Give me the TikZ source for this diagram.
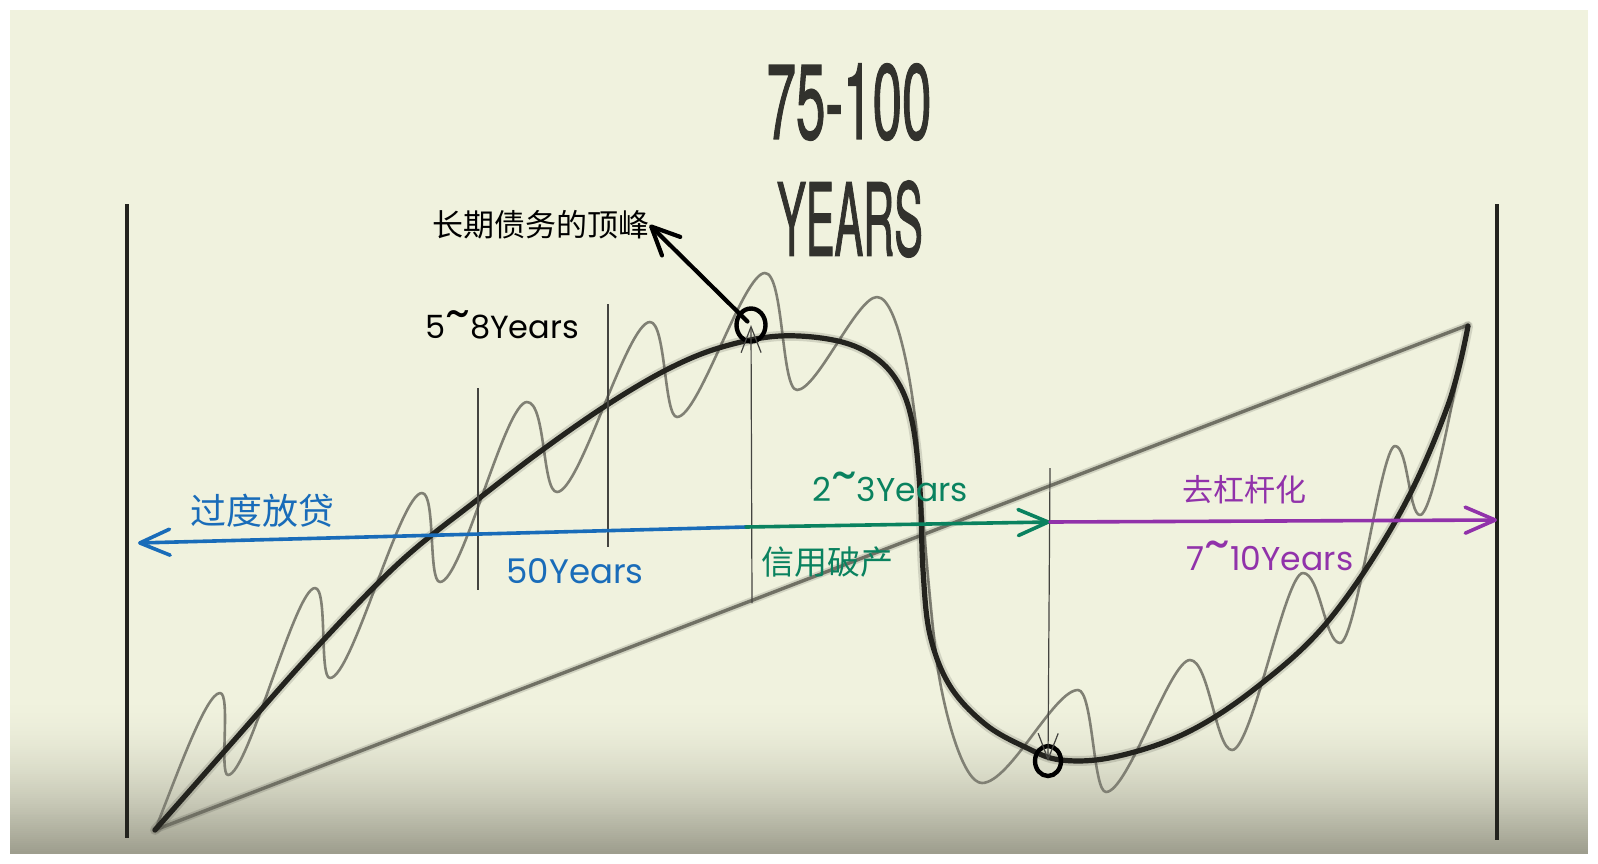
\documentclass[tikz,border=0pt]{standalone}
\usepackage{fontspec}
\setsansfont{TeX Gyre Heros}
\newfontfamily\titlefont[FakeBold=1.6]{TeX Gyre Heros}
\newfontfamily\cjk{Noto Sans CJK SC}
\newfontfamily\hand{Poppins}
\usetikzlibrary{arrows.meta,shapes.geometric}
\definecolor{bgc}{RGB}{240,242,222}
\definecolor{bgdark}{RGB}{158,158,142}
\definecolor{inkc}{RGB}{35,35,30}
\definecolor{wavec}{RGB}{128,128,116}
\definecolor{trendc}{RGB}{112,112,100}
\definecolor{titlec}{RGB}{50,50,45}
\definecolor{blueA}{RGB}{25,108,185}
\definecolor{greenA}{RGB}{10,130,95}
\definecolor{purpleA}{RGB}{145,50,170}
\newcommand{\htilde}{\raisebox{.3em}{\scalebox{1.5}{\textasciitilde}}}
\begin{document}
\begin{tikzpicture}[x=1pt,y=-1pt,
  bar/.style={line width=4pt, draw=inkc},
  thinline/.style={line width=1.3pt, draw=inkc!85},
  maincurve/.style={line width=5.2pt, draw=inkc, line cap=round, line join=round},
  halo/.style={line width=#1, draw=inkc, opacity=0.15, line cap=round, line join=round},
  wave/.style={line width=2.6pt, draw=wavec, line cap=round, line join=round},
  trend/.style={line width=3.4pt, draw=trendc, line cap=round},
  ring/.style={ellipse, draw=black, line width=4.4pt, inner sep=0pt},
  vtip/.style={line width=1.2pt, draw=inkc!85, -{Straight Barb[length=26pt,width=20pt,line width=1.2pt]}},
  carrow/.style={line width=3.6pt, line cap=round, -{Straight Barb[length=30pt,width=26pt,line cap=round,line join=round]}},
  cjklabel/.style={inner sep=0pt, font=\cjk\fontsize{#1}{#1}\selectfont},
  handlabel/.style={inner sep=0pt, font=\hand\fontsize{#1}{#1}\selectfont},
  titletext/.style={inner sep=0pt, text=titlec, xscale=0.5, font=\titlefont\fontsize{#1}{#1}\selectfont}
]
\useasboundingbox (0,0) rectangle (1598,863);
\fill[white] (0,0) rectangle (1598,863);
\fill[bgc] (10,10) rectangle (1588,853);
\foreach \i in {0,...,79}{
  \pgfmathsetmacro\p{100*(\i/79)^1.8}
  \fill[bgdark!\p!bgc] (10,{695+\i*1.975}) rectangle (1588,{695+(\i+1)*1.975+0.6});
}

% title
\node[titletext=106] (t1) at (849,102) {75-100};
\node[titletext=100, xscale=0.86] (t2) at (850,219) {YEARS};

% frame bars
\draw[bar] (127,204) -- (127,838);
\draw[bar] (1497,204) -- (1497,840);

% trend line
\draw[halo=7pt] (155,830) -- (1468,325);
\draw[trend] (155,830) -- (1468,325);

% wave
\draw[wave] (155,830)
 .. controls +(22,-55) and +(-14,0) .. (220,693)
 .. controls +(11,0) and +(-9,0) .. (228,775)
 .. controls +(20,0) and +(-20,0) .. (315,588)
 .. controls +(13,0) and +(-11,0) .. (330,678)
 .. controls +(22,0) and +(-22,0) .. (422,493)
 .. controls +(14,0) and +(-12,0) .. (440,582)
 .. controls +(22,0) and +(-22,0) .. (527,402)
 .. controls +(19,0) and +(-15,0) .. (557,492)
 .. controls +(23,0) and +(-23,0) .. (650,322)
 .. controls +(16,0) and +(-13,0) .. (677,417)
 .. controls +(22,0) and +(-22,0) .. (765,273)
 .. controls +(19,0) and +(-16,0) .. (797,390)
 .. controls +(20,0) and +(-20,0) .. (877,297)
 .. controls +(22,0) and +(-3,-50) .. (918,450)
 .. controls +(3,50) and +(-6,-40) .. (938,670)
 .. controls +(8,50) and +(-18,0) .. (982,783)
 .. controls +(28,0) and +(-24,0) .. (1078,690)
 .. controls +(15,0) and +(-13,0) .. (1106,792)
 .. controls +(22,0) and +(-20,0) .. (1190,660)
 .. controls +(19,0) and +(-16,0) .. (1232,750)
 .. controls +(20,0) and +(-18,0) .. (1303,573)
 .. controls +(17,0) and +(-15,0) .. (1340,643)
 .. controls +(16,0) and +(-14,0) .. (1395,446)
 .. controls +(13,0) and +(-11,0) .. (1420,515)
 .. controls +(14,0) and +(-8,30) .. (1468,326);

% main debt curve
\def\mainpts{(155,830) (230,745) (317,647) (400,562) (477,500) (545,448) (610,403) (670,368) (722,347) (780,336) (838,341) (876,358) (900,386) (913,426) (920,490) (923,570) (930,635) (950,686) (985,724) (1025,747) (1061,760) (1114,757) (1186,733) (1257,687) (1329,620) (1400,513) (1448,405) (1468,326)}
\draw[halo=10pt] plot[smooth, tension=0.6] coordinates {\mainpts};
\draw[maincurve] plot[smooth, tension=0.6] coordinates {\mainpts};

% thin vertical markers
\draw[thinline] (478,388) -- (478,590);
\draw[thinline] (608,304) -- (608,547);

% rings
\node[ring, minimum width=29pt, minimum height=33pt] (peakc) at (751,325) {};
\node[ring, minimum width=26pt, minimum height=30pt] (troughc) at (1048,761) {};

% vertical arrows into rings
\coordinate (pkbase) at (752,603);
\coordinate (trtop) at (1050,468);
\draw[vtip] (pkbase) -- (peakc.center);
\draw[vtip] (trtop) -- (troughc.center);

% labels
\node[cjklabel=31, text=black] (peaklbl) at (541,225) {长期债务的顶峰};
\draw[line width=4.2pt, line cap=round, shorten <=5pt,
  -{Straight Barb[length=28pt,width=26pt,line cap=round,line join=round]}]
  (peakc.center) -- (peaklbl.east);

\node[handlabel=32, text=black] (l58) at (502,325) {5\htilde 8Years};
\node[handlabel=34, text=blueA] (l50) at (575,571) {50Years};
\node[handlabel=33, text=greenA] (l23) at (890,487) {2\htilde 3Years};
\node[handlabel=33, text=purpleA] (l710) at (1270,556) {7\htilde 10Years};

\node[cjklabel=36, text=blueA] (over) at (262,511) {过度放贷};
\node[cjklabel=33, text=greenA] (crash) at (827,562) {信用破产};
\node[cjklabel=31, text=purpleA] (delev) at (1244,490) {去杠杆化};

% phase arrows
\coordinate (split1) at (746,527);
\coordinate (leftend) at (138,543);
\coordinate (split2) at (1050,522);
\coordinate (rightend) at (1497,520);
\draw[carrow, draw=blueA] (split1) -- (leftend);
\draw[carrow, draw=greenA] (split1) -- (split2);
\draw[carrow, draw=purpleA] (split2) -- (rightend);
\end{tikzpicture}
\end{document}
